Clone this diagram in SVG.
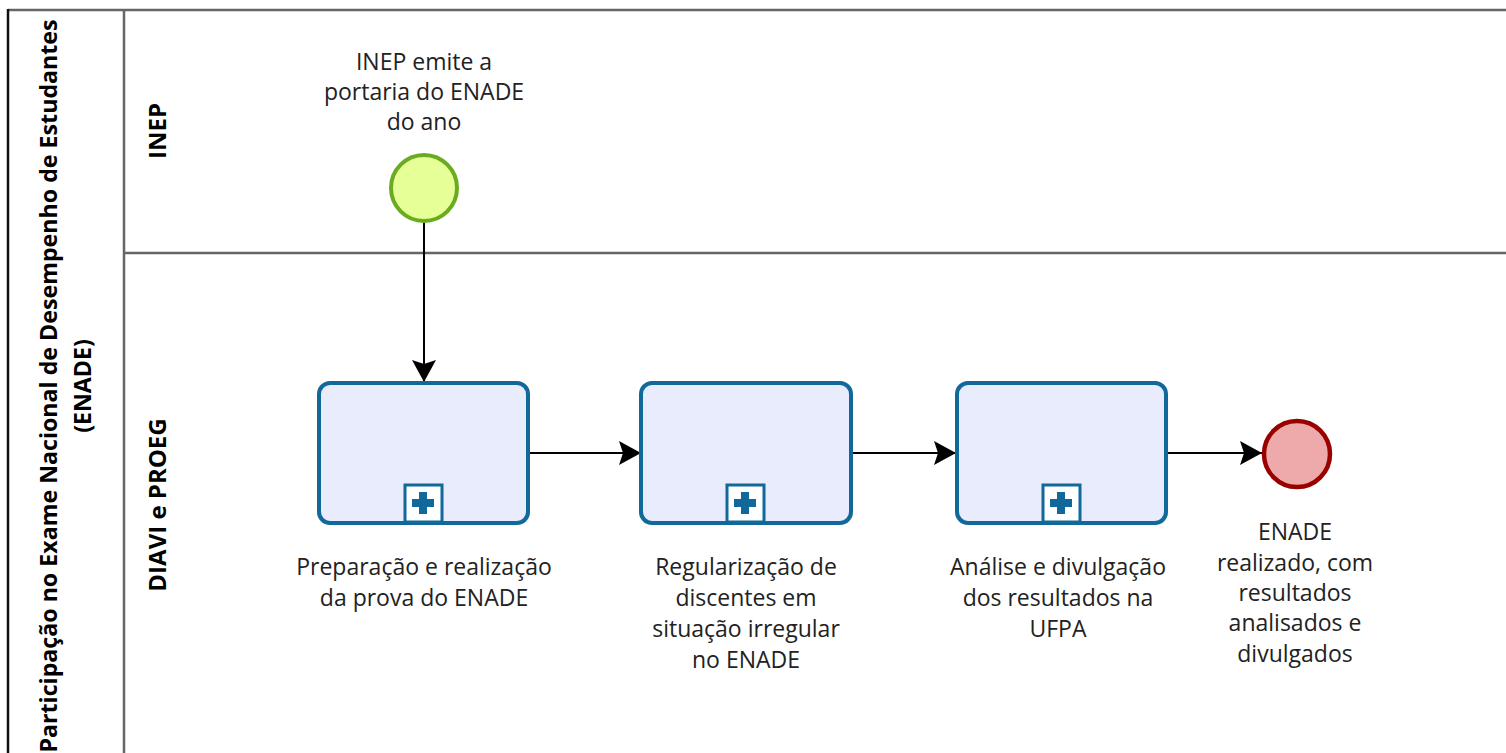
<svg xmlns="http://www.w3.org/2000/svg" width="1506" height="753" viewBox="0 0 1506 753">
<style>
.lbl{font-family:"Open Sans","Noto Sans",sans-serif;font-size:23px;fill:#222;text-anchor:middle}
.hdr{font-family:"Open Sans","Noto Sans",sans-serif;font-size:23.2px;font-weight:bold;fill:#000;text-anchor:middle}
.lane{font-size:24px}
.task{fill:#e8ecfc;stroke:#10699a;stroke-width:4}
.mk{fill:#fff;stroke:#10699a;stroke-width:3}
.plus{fill:#10699a}
.flow{stroke:#000;stroke-width:2;fill:none;marker-end:url(#arr)}
</style>
<defs>
<marker id="arr" markerUnits="userSpaceOnUse" markerWidth="24" markerHeight="26" refX="22" refY="12" orient="auto" viewBox="0 0 24 26">
<path d="M0,0 L22,12 L0,24 L4,12 Z" fill="#000"/>
</marker>
</defs>
<rect width="1506" height="753" fill="#fff"/>
<g id="pool">
<line x1="8" y1="10" x2="1506" y2="10" stroke="#666" stroke-width="2.5"/>
<line x1="8" y1="9" x2="8" y2="753" stroke="#111" stroke-width="2.5"/>
<line x1="124" y1="10" x2="124" y2="753" stroke="#666" stroke-width="2.5"/>
<text class="hdr" transform="translate(57,386) rotate(-90)">Participação no Exame Nacional de Desempenho de Estudantes</text>
<text class="hdr" transform="translate(91,386) rotate(-90)">(ENADE)</text>
</g>
<g id="lane-inep">
<line x1="124" y1="253" x2="1506" y2="253" stroke="#666" stroke-width="2.5"/>
<text class="hdr lane" transform="translate(166,131) rotate(-90)">INEP</text>
</g>
<g id="lane-diavi">
<text class="hdr lane" transform="translate(166,505) rotate(-90)">DIAVI e PROEG</text>
</g>
<g id="connectors">
<line class="flow" x1="424" y1="222" x2="424" y2="382"/>
<line class="flow" x1="529" y1="453" x2="641" y2="453"/>
<line class="flow" x1="852" y1="453" x2="956" y2="453"/>
<line class="flow" x1="1167" y1="453" x2="1262" y2="453"/>
</g>
<g id="start">
<circle cx="424" cy="188" r="33" fill="#e6ff97" stroke="#6aab1f" stroke-width="4"/>
<text class="lbl" x="424" y="70">INEP emite a</text>
<text class="lbl" x="424" y="100">portaria do ENADE</text>
<text class="lbl" x="424" y="130">do ano</text>
</g>
<g id="task1">
<rect class="task" x="319" y="383" width="209" height="140" rx="11"/>
<rect class="mk" x="405" y="485" width="37" height="37"/>
<rect class="plus" x="412" y="499" width="22" height="8"/>
<rect class="plus" x="419" y="492" width="8" height="22"/>
<text class="lbl" x="424" y="575">Preparação e realização</text>
<text class="lbl" x="424" y="606">da prova do ENADE</text>
</g>
<g id="task2">
<rect class="task" x="641" y="383" width="210" height="140" rx="11"/>
<rect class="mk" x="727" y="485" width="37" height="37"/>
<rect class="plus" x="734" y="499" width="22" height="8"/>
<rect class="plus" x="741" y="492" width="8" height="22"/>
<text class="lbl" x="746" y="575">Regularização de</text>
<text class="lbl" x="746" y="606">discentes em</text>
<text class="lbl" x="746" y="637">situação irregular</text>
<text class="lbl" x="746" y="668">no ENADE</text>
</g>
<g id="task3">
<rect class="task" x="957" y="383" width="209" height="140" rx="11"/>
<rect class="mk" x="1043" y="485" width="37" height="37"/>
<rect class="plus" x="1050" y="499" width="22" height="8"/>
<rect class="plus" x="1057" y="492" width="8" height="22"/>
<text class="lbl" x="1058" y="575">Análise e divulgação</text>
<text class="lbl" x="1058" y="606">dos resultados na</text>
<text class="lbl" x="1058" y="637">UFPA</text>
</g>
<g id="end">
<circle cx="1297" cy="454" r="33" fill="#eeaaaa" stroke="#990000" stroke-width="4.5"/>
<text class="lbl" x="1295" y="540">ENADE</text>
<text class="lbl" x="1295" y="571">realizado, com</text>
<text class="lbl" x="1295" y="601">resultados</text>
<text class="lbl" x="1295" y="631">analisados e</text>
<text class="lbl" x="1295" y="662">divulgados</text>
</g>
</svg>
